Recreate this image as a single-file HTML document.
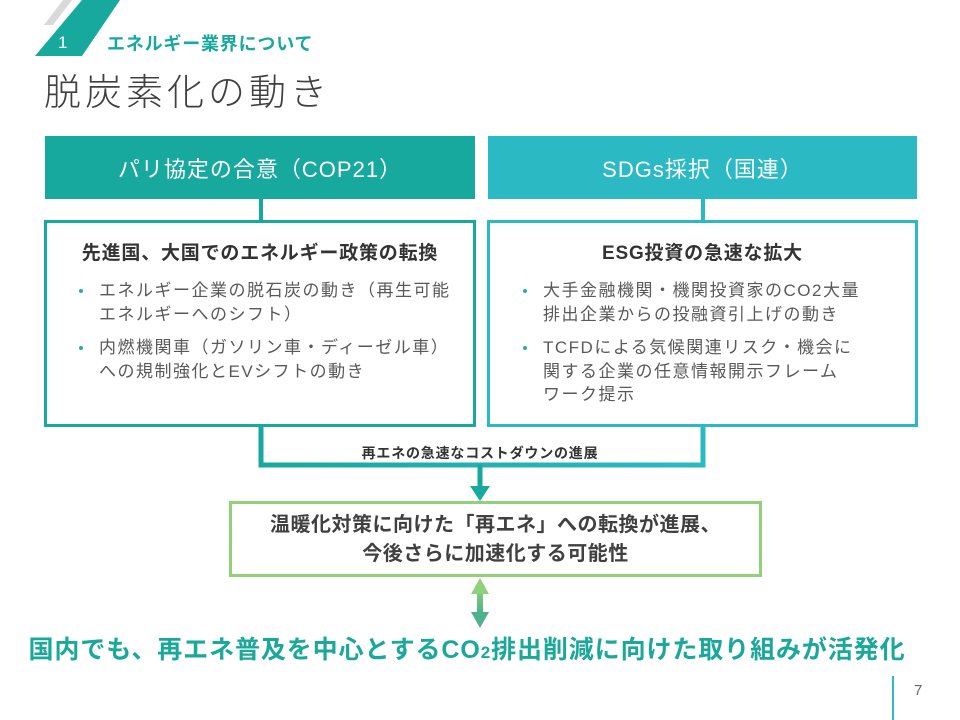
<!DOCTYPE html>
<html><head><meta charset="utf-8"><style>
body{margin:0;width:960px;height:720px;position:relative;background:#fff;overflow:hidden;font-family:"Liberation Sans","Noto Sans CJK JP",sans-serif;}
.a{position:absolute;white-space:nowrap;}
.hdr{position:absolute;top:136px;height:63px;color:#fff;font-size:22px;letter-spacing:1px;display:flex;align-items:center;justify-content:center;}
.box{position:absolute;top:220px;height:201px;border:3px solid;background:#fff;}
.h{position:absolute;left:0;right:0;top:15px;text-align:center;font-size:19px;letter-spacing:0.8px;font-weight:bold;color:#333;}
.ul{position:absolute;font-size:17px;letter-spacing:1.5px;color:#595959;line-height:23.5px;}
.li{position:relative;margin-bottom:10px;}
.li:before{content:"";position:absolute;left:-20px;top:10px;width:4px;height:4px;border-radius:2px;background:#2aaea4;}
</style></head><body>
<svg class="a" style="left:0;top:0" width="960" height="720">
<polygon points="63,0 72,0 53,25 44,25" fill="#d9d9d9"/>
<polygon points="82,0 120,0 82,56 35,56" fill="#17a89e"/>
<line x1="261" y1="199" x2="261" y2="222" stroke="#17a89e" stroke-width="4"/>
<line x1="703" y1="199" x2="703" y2="222" stroke="#2bbac4" stroke-width="4"/>
<defs><linearGradient id="g" x1="0" x2="1"><stop offset="0" stop-color="#17a89e"/><stop offset="1" stop-color="#2bbac4"/></linearGradient>
<linearGradient id="g2" x1="0" y1="0" x2="0" y2="1"><stop offset="0" stop-color="#8fd07c"/><stop offset="1" stop-color="#3fae8e"/></linearGradient></defs>
<polyline points="261,424 261,465 703,465 703,424" fill="none" stroke="url(#g)" stroke-width="5"/>
<line x1="480" y1="465" x2="480" y2="488" stroke="#17a89e" stroke-width="5"/>
<polygon points="470,486 490,486 480,501" fill="#17a89e"/>
<rect x="477" y="588" width="6" height="30" fill="url(#g2)"/>
<polygon points="471,594 489,594 480,578" fill="#8fd07c"/>
<polygon points="471,612 489,612 480,628" fill="#4fb08e"/>
<line x1="893" y1="676" x2="893" y2="720" stroke="#2bbac4" stroke-width="2"/>
</svg>
<div class="a" style="left:58px;top:33px;color:#fff;font-size:17px">1</div>
<div class="a" style="left:107px;top:30px;color:#17a89e;font-size:18px;font-weight:bold;letter-spacing:0.8px">エネルギー業界について</div>
<div class="a" style="left:44px;top:62px;color:#404040;font-size:37px;letter-spacing:4px;font-weight:300">脱炭素化の動き</div>
<div class="hdr" style="left:45px;width:430px;background:#17a89e">パリ協定の合意（COP21）</div>
<div class="hdr" style="left:488px;width:429px;background:#2bbac4">SDGs採択（国連）</div>
<div class="box" style="left:44px;width:426px;border-color:#17a89e">
<div class="h">先進国、大国でのエネルギー政策の転換</div>
<div class="ul" style="left:52px;top:56px">
<div class="li">エネルギー企業の脱石炭の動き（再生可能<br>エネルギーへのシフト）</div>
<div class="li">内燃機関車（ガソリン車・ディーゼル車）<br>への規制強化とEVシフトの動き</div>
</div></div>
<div class="box" style="left:487px;width:425px;border-color:#2bbac4">
<div class="h">ESG投資の急速な拡大</div>
<div class="ul" style="left:53px;top:56px">
<div class="li">大手金融機関・機関投資家のCO2大量<br>排出企業からの投融資引上げの動き</div>
<div class="li">TCFDによる気候関連リスク・機会に<br>関する企業の任意情報開示フレーム<br>ワーク提示</div>
</div></div>
<div class="a" style="left:0;width:960px;top:443px;text-align:center;font-size:14px;letter-spacing:0.8px;font-weight:bold;color:#333">再エネの急速なコストダウンの進展</div>
<div class="a" style="left:229px;top:501px;width:527px;border:3px solid #92d07a;background:#fff;text-align:center;font-size:20px;letter-spacing:0.5px;font-weight:bold;color:#404040;line-height:29px;padding-top:7px;height:63px">温暖化対策に向けた「再エネ」への転換が進展、<br>今後さらに加速化する可能性</div>
<div class="a" style="left:-13px;width:960px;top:630px;text-align:center;font-size:25px;letter-spacing:0.9px;font-weight:bold;color:#1aa89a">国内でも、再エネ普及を中心とするCO<span style="font-size:17px">2</span>排出削減に向けた取り組みが活発化</div>
<div class="a" style="left:914px;top:682px;font-size:15px;color:#666">7</div>
</body></html>
